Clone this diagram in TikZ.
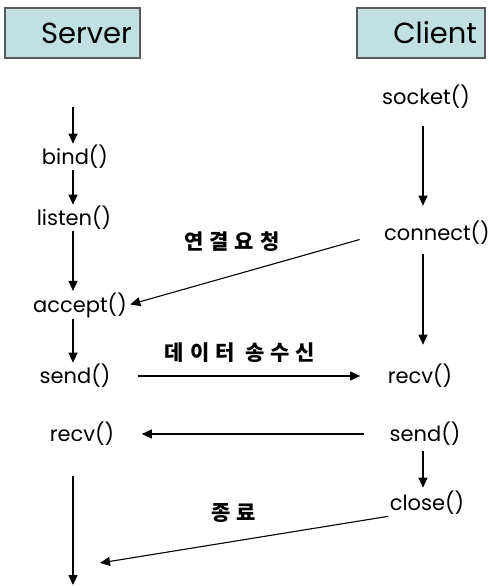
\documentclass[tikz,border=0pt]{standalone}
\usepackage{fontspec}
\setmainfont{Poppins}
\newfontfamily\krfont[LetterSpace=28]{Noto Sans CJK KR}
\usetikzlibrary{arrows.meta, positioning}
\definecolor{boxteal}{RGB}{192,224,228}

\begin{document}
\begin{tikzpicture}[x=1pt,y=-1pt,>={Triangle[length=10pt,width=9pt]},line width=1.1pt,
	head node/.style={draw=black!65,fill=boxteal,minimum height=50pt,inner xsep=8pt,align=right,font=\fontsize{29}{31}\selectfont},
	call node/.style={inner sep=1pt,font=\fontsize{21}{23}\selectfont},
	msg node/.style={font=\krfont\bfseries\fontsize{21}{23}\selectfont}]
	
	\useasboundingbox (0,0) rectangle (489,586);
	
	% headers
	\node[head node,text width=119pt] (server) at (72.5,33) {Server};
	\node[head node,text width=112pt] (client) at (421,33) {Client};
	
	% server side
	\coordinate (sx) at (73,0);
	\coordinate (top) at (73,107);
	\node[call node] (bind) at (75,157) {bind()};
	\node[call node] (listen) at (74,218) {listen()};
	\node[call node] (accept) at (80,305) {accept()};
	\node[call node] (ssend) at (75,376) {send()};
	\node[call node] (srecv) at (82,434) {recv()};
	\coordinate (down) at (73,476);
	\coordinate (bottom) at (73,585);
	\coordinate (fin) at (100,563);
	
	% client side
	\coordinate (cx) at (423,0);
	\node[call node] (socket) at (426,97) {socket()};
	\node[call node] (connect) at (437,233) {connect()};
	\node[call node] (crecv) at (420,376) {recv()};
	\node[call node] (csend) at (425,434) {send()};
	\node[call node] (close) at (427,503) {close()};
	
	\draw[->] (top) -- (bind.north -| sx);
	\draw[->] (bind.south -| sx) -- (listen.north -| sx);
	\draw[->] (listen.south -| sx) -- (accept.north -| sx);
	\draw[->] (accept.south -| sx) -- (ssend.north -| sx);
	\draw[->] (down) -- (bottom);
	
	\draw[->,shorten <=16pt,shorten >=14pt] (socket.south -| cx) -- (connect.north -| cx);
	\draw[->,shorten <=8pt,shorten >=18pt] (connect.south -| cx) -- (crecv.north -| cx);
	\draw[->,shorten <=4pt,shorten >=2pt] (csend.south -| cx) -- (close.north -| cx);
	
	% messages
	\draw[->,shorten <=24pt,shorten >=2pt] (connect.west) -- (accept.east);
	\draw[->,shorten <=26pt,shorten >=26pt] (ssend.east) -- (crecv.west);
	\draw[->,shorten <=24pt,shorten >=26pt] (csend.west) -- (srecv.east);
	\draw[->] (close.south west) -- (fin);
	
	\node[msg node] (req) at (232,242) {연결요청};
	\node[msg node] (data) at (240,353) {데이터 송수신};
	\node[msg node] (end) at (234,513) {종료};
\end{tikzpicture}
\end{document}
